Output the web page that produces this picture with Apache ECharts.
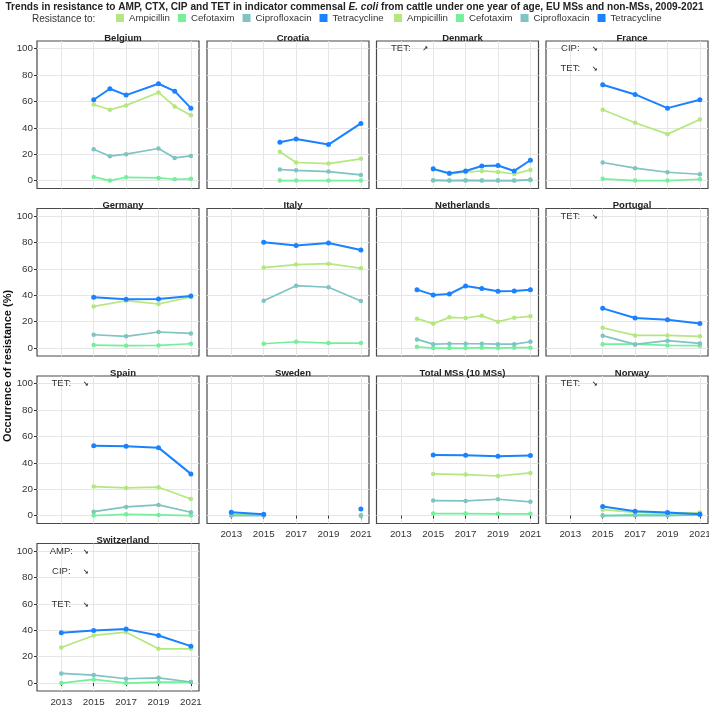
<!DOCTYPE html>
<html><head><meta charset="utf-8">
<script src="https://cdn.jsdelivr.net/npm/echarts@6/dist/echarts.min.js"></script>
<style>html,body{margin:0;padding:0;background:#fff}#c{width:709px;height:707px}</style>
</head><body><div id="c"></div>
<script>
// ---- data ----
const panelNames = ['Belgium','Croatia','Denmark','France','Germany','Italy','Netherlands','Portugal','Spain','Sweden','Total MSs (10 MSs)','Norway','Switzerland'];
const seriesNames = ['Ampicillin','Cefotaxim','Ciprofloxacin','Tetracycline'];
const xTicks = [2013,2015,2017,2019,2021];
const yTicks = [0,20,40,60,80,100];

const belgiumYears = [2015,2016,2017,2019,2020,2021];
const belgiumAMP = [57.7,53.7,57,66.8,56.2,49.6];
const belgiumCTX = [2.8,0,2.5,2,1,1.3];
const belgiumCIP = [23.8,18.5,20,24.3,17.2,18.7];
const belgiumTET = [61.3,69.6,64.8,73.4,67.8,54.9];

const croatiaYears = [2016,2017,2019,2021];
const croatiaAMP = [21.8,13.7,12.9,16.5];
const croatiaCTX = [0,0,0,0];
const croatiaCIP = [8.4,7.8,6.8,4.3];
const croatiaTET = [29.1,31.6,27.3,43.3];

const denmarkYears = [2015,2016,2017,2018,2019,2020,2021];
const denmarkAMP = [8.4,5,6.3,7.3,6.6,5,8.1];
const denmarkCTX = [0,0,0.3,0,0,0,0.3];
const denmarkCIP = [0.3,0,0,0,0,0,0.8];
const denmarkTET = [8.9,5.6,7.3,11.1,11.4,7.3,15.4];

const franceYears = [2015,2017,2019,2021];
const franceAMP = [53.7,43.8,35.2,46.3];
const franceCTX = [1.3,0,0,1];
const franceCIP = [13.7,9.4,6.3,4.8];
const franceTET = [72.7,65.3,54.9,61.3];

const germanyYears = [2015,2017,2019,2021];
const germanyAMP = [31.6,35.9,33.4,38.7];
const germanyCTX = [2.3,1.8,2,3.3];
const germanyCIP = [10.1,8.9,12.2,11.1];
const germanyTET = [38.5,37,37.2,39.5];

const italyYears = [2015,2017,2019,2021];
const italyAMP = [61,63.3,64,60.5];
const italyCTX = [3.3,4.8,3.8,3.8];
const italyCIP = [35.9,47.3,46.1,35.7];
const italyTET = [80.3,77.7,79.7,74.4];

const netherlandsYears = [2014,2015,2016,2017,2018,2019,2020,2021];
const netherlandsAMP = [22.3,18.5,23.3,22.8,24.6,20,23,24.1];
const netherlandsCTX = [1,0,0,0,0.3,0,0.3,0.3];
const netherlandsCIP = [6.6,3,3.3,3.3,3.3,3,3,4.8];
const netherlandsTET = [44.3,40.3,41,47.1,45.1,43,43.3,44.3];

const portugalYears = [2015,2017,2019,2021];
const portugalAMP = [15.4,9.6,9.6,8.9];
const portugalCTX = [3,3,2,1.8];
const portugalCIP = [9.4,2.8,5.6,3.5];
const portugalTET = [30.1,22.8,21.5,18.7];

const spainYears = [2015,2017,2019,2021];
const spainAMP = [22,21,21.5,12.6];
const spainCTX = [0,1,0.5,0];
const spainCIP = [3,6.6,8.1,2.5];
const spainTET = [53,52.5,51.5,31.6];

const swedenYears = [2013,2015,2017,2021];
const swedenAMP = [0.8,0.5,null,0];
const swedenCTX = [0.3,0.3,null,0];
const swedenCIP = [0,0,null,0];
const swedenTET = [2.5,1,null,5];

const totalYears = [2015,2017,2019,2021];
const totalAMP = [31.6,31.1,30,32.3];
const totalCTX = [1.5,1.5,1.3,1.3];
const totalCIP = [11.4,11.1,12.4,10.4];
const totalTET = [46,45.7,45,45.5];

const norwayYears = [2015,2017,2019,2021];
const norwayAMP = [4.5,2.5,1.8,2.3];
const norwayCTX = [0,0.5,1,1.5];
const norwayCIP = [0,0,0,0.5];
const norwayTET = [6.8,3.3,2.3,1];

const switzerlandYears = [2013,2015,2017,2019,2021];
const switzerlandAMP = [27,36.1,38.6,26,26];
const switzerlandCTX = [0,2.8,0,0.8,0.8];
const switzerlandCIP = [7.3,6.1,3.3,4,0.8];
const switzerlandTET = [38.1,39.9,40.9,36.1,28];

const annotations = [
  {panel:2, label:'TET:', arrow:'↗', y:100},
  {panel:3, label:'CIP:', arrow:'↘', y:100},
  {panel:3, label:'TET:', arrow:'↘', y:85},
  {panel:7, label:'TET:', arrow:'↘', y:100},
  {panel:8, label:'TET:', arrow:'↘', y:100},
  {panel:11, label:'TET:', arrow:'↘', y:100},
  {panel:12, label:'AMP:', arrow:'↘', y:100},
  {panel:12, label:'CIP:', arrow:'↘', y:85},
  {panel:12, label:'TET:', arrow:'↘', y:60}
];
const annLabelX = 2013, annArrowX = 2014.5;

// ---- build ----
const panelData = [
  [belgiumYears,belgiumAMP,belgiumCTX,belgiumCIP,belgiumTET],
  [croatiaYears,croatiaAMP,croatiaCTX,croatiaCIP,croatiaTET],
  [denmarkYears,denmarkAMP,denmarkCTX,denmarkCIP,denmarkTET],
  [franceYears,franceAMP,franceCTX,franceCIP,franceTET],
  [germanyYears,germanyAMP,germanyCTX,germanyCIP,germanyTET],
  [italyYears,italyAMP,italyCTX,italyCIP,italyTET],
  [netherlandsYears,netherlandsAMP,netherlandsCTX,netherlandsCIP,netherlandsTET],
  [portugalYears,portugalAMP,portugalCTX,portugalCIP,portugalTET],
  [spainYears,spainAMP,spainCTX,spainCIP,spainTET],
  [swedenYears,swedenAMP,swedenCTX,swedenCIP,swedenTET],
  [totalYears,totalAMP,totalCTX,totalCIP,totalTET],
  [norwayYears,norwayAMP,norwayCTX,norwayCIP,norwayTET],
  [switzerlandYears,switzerlandAMP,switzerlandCTX,switzerlandCIP,switzerlandTET]
];
const colors = ['#b5e77f','#74ef9c','#7fc3c3','#1a82ff'];
const colLeft = [37, 207, 376.5, 546];
const rowTop = [41, 208.5, 376, 543.5];
const PW = 162, PH = 147.5;
const labelFont = 'Liberation Sans, Arial, sans-serif';
const bottomPanels = [9,10,11,12];

const grids = [], xAxes = [], yAxes = [], series = [], titles = [];
panelNames.forEach((name, i) => {
  const r = Math.floor(i/4), c = i%4;
  grids.push({left: colLeft[c], top: rowTop[r], width: PW, height: PH, show: true,
    borderColor: '#4a4a4a', borderWidth: 1.2, backgroundColor: '#fff',
    containLabel: false, outerBoundsMode: 'none'});
  const showX = bottomPanels.includes(i);
  const showY = c === 0;
  xAxes.push({type:'value', gridIndex:i, min:2011.5, max:2021.5,
    axisLine:{show:false},
    axisTick:{show:showX, length:3, lineStyle:{color:'#333'}, customValues: xTicks},
    axisLabel:{show:showX, customValues: xTicks, formatter: v => String(v), color:'#333', fontSize:9.8, fontFamily:labelFont, margin:6},
    splitLine:{show:true, lineStyle:{color:'#e6e6e6', width:1}}});
  yAxes.push({type:'value', gridIndex:i, min:-6, max:105.8,
    axisLine:{show:false},
    axisTick:{show:showY, length:3, lineStyle:{color:'#333'}, customValues: yTicks},
    axisLabel:{show:showY, customValues: yTicks, formatter: v => String(v), color:'#333', fontSize:9.8, fontFamily:labelFont, margin:4},
    splitLine:{show:true, lineStyle:{color:'#e6e6e6', width:1}}});
  const d = panelData[i];
  seriesNames.forEach((sn, k) => {
    series.push({type:'line', name: sn, xAxisIndex:i, yAxisIndex:i,
      data: d[0].map((yr, j) => [yr, d[k+1][j] === null ? '-' : d[k+1][j]]),
      symbol:'circle', symbolSize: k===3 ? 5 : 4.5, showSymbol:true,
      connectNulls:false, animation:false,
      itemStyle:{color: colors[k]},
      lineStyle:{color: colors[k], width: k===3 ? 2 : 1.7}, z: 2+k});
  });
  titles.push({text: name, left: colLeft[c] + PW/2, top: rowTop[r] - 13, textAlign:'center',
    textStyle:{fontSize:9.5, fontWeight:'bold', color:'#222', fontFamily:labelFont}});
});

const legendStyle = {top: 8, icon:'rect', itemWidth:8, itemHeight:8, itemGap:8,
  textStyle:{fontSize:9.7, color:'#333', fontFamily:labelFont}};
const chart = echarts.init(document.getElementById('c'), null, {renderer:'canvas'});
chart.setOption({
  animation:false,
  title: titles,
  legend: [Object.assign({data: seriesNames, left: 111}, legendStyle),
           Object.assign({data: seriesNames, left: 389}, legendStyle)],
  grid: grids, xAxis: xAxes, yAxis: yAxes, series: series
});

// title, scaled to the narrow width of the reference
const titleA = 'Trends in resistance to AMP, CTX, CIP and TET in indicator commensal ';
const titleB = 'E. coli';
const titleC = ' from cattle under one year of age, EU MSs and non-MSs, 2009-2021';
const ctx = document.createElement('canvas').getContext('2d');
ctx.font = 'bold 11.5px "Liberation Sans"';
let w = ctx.measureText(titleA).width + ctx.measureText(titleC).width;
ctx.font = 'italic bold 11.5px "Liberation Sans"';
w += ctx.measureText(titleB).width;
const sx = 698 / w;

const g = [];
g.push({type:'text', x: 354.5, y: 6.5, scaleX: sx, style:{
  text: '{b|' + titleA + '}{i|' + titleB + '}{b|' + titleC + '}',
  textAlign:'center', textVerticalAlign:'middle',
  rich:{b:{fontSize:11.5, fontWeight:'bold', fill:'#222', fontFamily:'Liberation Sans'},
        i:{fontSize:11.5, fontWeight:'bold', fontStyle:'italic', fill:'#222', fontFamily:'Liberation Sans'}}}});
g.push({type:'text', x: 32, y: 19, style:{text:'Resistance to:', fill:'#333', font:'10px "Liberation Sans", Arial, sans-serif', textVerticalAlign:'middle'}});
g.push({type:'text', x: 8, y: 366, rotation: Math.PI/2, style:{text:'Occurrence of resistance (%)', fill:'#111', font:'bold 11px "Liberation Sans", Arial, sans-serif', textAlign:'center', textVerticalAlign:'middle'}});
annotations.forEach(a => {
  const p1 = chart.convertToPixel({gridIndex:a.panel}, [annLabelX, a.y]);
  const p2 = chart.convertToPixel({gridIndex:a.panel}, [annArrowX, a.y]);
  g.push({type:'text', x:p1[0], y:p1[1], style:{text:a.label, fill:'#333', font:'9.5px "Liberation Sans", Arial, sans-serif', textAlign:'center', textVerticalAlign:'middle'}});
  g.push({type:'text', x:p2[0], y:p2[1]+1, style:{text:a.arrow, fill:'#222', font:'bold 7px "DejaVu Sans", sans-serif', textAlign:'center', textVerticalAlign:'middle'}});
});
chart.setOption({graphic: g});
</script>
</body></html>
